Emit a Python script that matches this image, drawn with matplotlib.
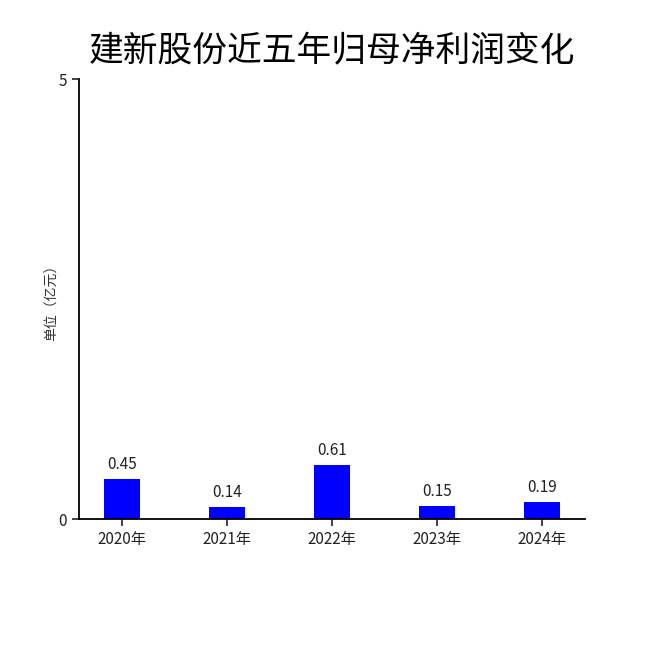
import matplotlib
matplotlib.use("Agg")
import matplotlib.pyplot as plt

plt.rcParams['font.family'] = ['Noto Sans CJK SC', 'DejaVu Sans']

# data
years = ['2020年', '2021年', '2022年', '2023年', '2024年']
profits = [0.45, 0.14, 0.61, 0.15, 0.19]
title = '建新股份近五年归母净利润变化'
y_label = '单位（亿元）'

fig = plt.figure(figsize=(6.5, 6.5), dpi=100)
ax = fig.add_axes([79 / 650, 1 - 519 / 650, (585 - 79) / 650, (519 - 79) / 650])

x = range(len(years))
ax.bar(x, profits, width=0.34, color='#0000ff')
for xi, v in zip(x, profits):
    ax.text(xi, v + 0.07, f'{v:.2f}', ha='center', va='bottom', fontsize=11, color='#222222')

ax.set_xlim(-0.41, 4.41)
ax.set_ylim(0, 5)
ax.set_yticks([0, 5])
ax.set_xticks(list(x))
ax.set_xticklabels(years)
ax.tick_params(axis='both', labelsize=11, colors='#222222', length=5, width=1.2)
ax.spines['top'].set_visible(False)
ax.spines['right'].set_visible(False)
ax.spines['left'].set_linewidth(1.3)
ax.spines['bottom'].set_linewidth(1.3)
ax.set_ylabel(y_label, fontsize=10, color='#333333', labelpad=0)

fig.text(0.51, 1 - 52 / 650, title, ha='center', va='center', fontsize=25, color='black')

fig.savefig('out.png', dpi=100, facecolor='white')
